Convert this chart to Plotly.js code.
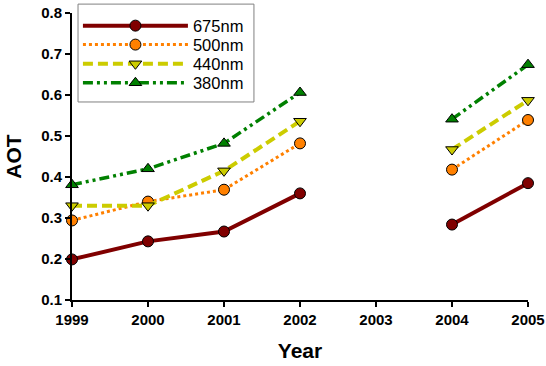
<!DOCTYPE html>
<html>
<head>
<meta charset="utf-8">
<script src="https://cdn.plot.ly/plotly-3.0.1.min.js"></script>
<style>html,body{margin:0;padding:0;background:#fff}#chart{width:546px;height:366px}</style>
</head>
<body>
<div id="chart"></div>
<script>
var years = [1999, 2000, 2001, 2002, 2003, 2004, 2005];
var aot675 = [0.199, 0.243, 0.267, 0.360, null, 0.284, 0.385];
var aot500 = [0.294, 0.340, 0.369, 0.482, null, 0.418, 0.539];
var aot440 = [0.330, 0.330, 0.415, 0.536, null, 0.467, 0.587];
var aot380 = [0.381, 0.420, 0.482, 0.606, null, 0.541, 0.674];
var seriesNames = ['675nm', '500nm', '440nm', '380nm'];

function tr(y, name, color, dash, width, symbol, size, legendId) {
  return {
    x: years, y: y, name: name, type: 'scatter', mode: 'lines+markers',
    connectgaps: false, cliponaxis: false, legend: legendId,
    line: {color: color, width: width, dash: dash},
    marker: {symbol: symbol, size: size, color: color, line: {color: '#000000', width: 1}}
  };
}

var data = [
  tr(aot675, seriesNames[0], '#800000', 'solid', 4, 'circle', 11, 'legend'),
  tr(aot500, seriesNames[1], '#FF8000', '3px,3px', 3, 'circle', 11, 'legend2'),
  tr(aot440, seriesNames[2], '#CCCC00', '10px,5px', 4, 'triangle-down', 11, 'legend3'),
  tr(aot380, seriesNames[3], '#008000', '10px,4px,3px,4px,3px,4px', 3.5, 'triangle-up', 11, 'legend4')
];

var FAM = 'Liberation Sans, Arial, sans-serif';
var tickFont = {family: FAM, size: 15, color: '#000', weight: 'bold'};
function leg(yc) {
  return {
    x: 0.013, y: yc, xanchor: 'left', yanchor: 'middle',
    bgcolor: 'rgba(0,0,0,0)', borderwidth: 0,
    font: {family: FAM, size: 16.5, color: '#000'},
    itemwidth: 105
  };
}
var layout = {
  width: 546, height: 366,
  margin: {l: 72, r: 18, t: 13, b: 66, autoexpand: false},
  paper_bgcolor: '#ffffff', plot_bgcolor: '#ffffff',
  font: {family: FAM, color: '#000'},
  showlegend: true,
  legend: leg(0.955),
  legend2: leg(0.889),
  legend3: leg(0.822),
  legend4: leg(0.756),
  shapes: [{
    type: 'rect', xref: 'paper', yref: 'paper', layer: 'above',
    x0: 0.0132, x1: 0.399, y0: 0.690, y1: 1.031,
    fillcolor: '#ffffff', line: {color: '#808080', width: 1}
  }],
  xaxis: {
    range: [1999, 2005], tickmode: 'linear', tick0: 1999, dtick: 1,
    showgrid: false, zeroline: false,
    showline: true, linecolor: '#000', linewidth: 2,
    ticks: 'outside', ticklen: 5, tickwidth: 1.5, tickcolor: '#000',
    tickfont: tickFont,
    title: {text: 'Year', font: {family: FAM, size: 21, color: '#000', weight: 'bold'}, standoff: 16}
  },
  yaxis: {
    range: [0.1, 0.8], tickmode: 'linear', tick0: 0.1, dtick: 0.1, tickformat: '.1f',
    showgrid: false, zeroline: false,
    showline: true, linecolor: '#000', linewidth: 2,
    ticks: 'outside', ticklen: 5, tickwidth: 1.5, tickcolor: '#000',
    tickfont: tickFont,
    title: {text: 'AOT', font: {family: FAM, size: 21, color: '#000', weight: 'bold'}, standoff: 14}
  }
};

Plotly.newPlot('chart', data, layout, {displayModeBar: false, staticPlot: true});
</script>
</body>
</html>
